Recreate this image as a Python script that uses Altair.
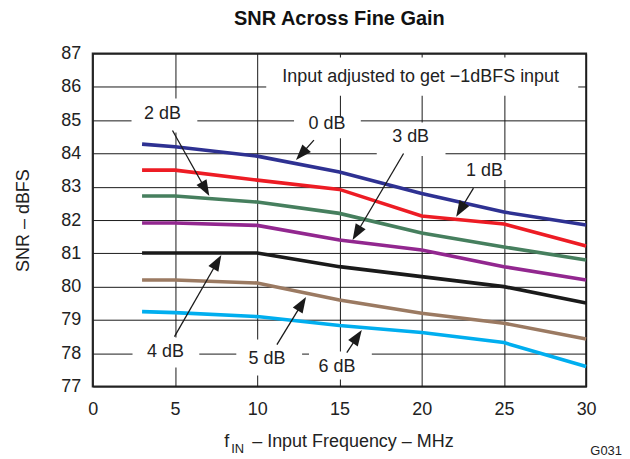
import math
import altair as alt
import pandas as pd

# ---------------- data ----------------
freq = [3, 5, 10, 15, 20, 25, 30]
series_names = ["0 dB", "1 dB", "2 dB", "3 dB", "4 dB", "5 dB", "6 dB"]
snr_0db = [84.28, 84.20, 83.92, 83.44, 82.80, 82.24, 81.85]
snr_1db = [83.50, 83.50, 83.20, 82.92, 82.12, 81.88, 81.22]
snr_2db = [82.72, 82.72, 82.54, 82.20, 81.61, 81.19, 80.80]
snr_3db = [81.91, 81.91, 81.84, 81.40, 81.10, 80.60, 80.20]
snr_4db = [81.01, 81.01, 81.01, 80.60, 80.30, 80.00, 79.51]
snr_5db = [80.20, 80.20, 80.11, 79.60, 79.20, 78.90, 78.43]
snr_6db = [79.25, 79.22, 79.10, 78.83, 78.62, 78.32, 77.60]
line_colors = ["#2E3192", "#ED1C24", "#467F5E", "#92278F", "#1A1A1A", "#9B7A62", "#00AEEF"]

x_ticks = [0, 5, 10, 15, 20, 25, 30]
y_ticks = [77, 78, 79, 80, 81, 82, 83, 84, 85, 86, 87]

# annotation labels (data coordinates)
label_text = ["Input adjusted to get \u22121dBFS input", "2 dB", "0 dB", "3 dB", "1 dB", "4 dB", "5 dB", "6 dB"]
label_x = [19.94, 4.24, 14.24, 19.33, 23.82, 4.42, 10.60, 14.85]
label_y = [86.31, 85.17, 84.87, 84.49, 83.47, 78.05, 77.84, 77.60]

# white label backgrounds (data coordinates)
box_x1 = [10.55, 2.36, 12.24, 17.27, 22.10, 2.42, 8.73, 13.15]
box_x2 = [29.52, 6.36, 16.30, 21.45, 25.40, 6.48, 12.73, 16.97]
box_y1 = [86.88, 85.65, 85.08, 84.93, 83.80, 78.47, 78.41, 78.05]
box_y2 = [85.73, 84.63, 84.46, 83.92, 83.20, 77.57, 77.33, 77.21]

# arrows: start (near label) -> tip (on curve)
arrow_x0 = [4.85, 13.45, 18.90, 23.15, 4.97, 11.20, 15.45]
arrow_y0 = [84.69, 84.40, 84.00, 82.96, 78.50, 78.26, 78.02]
arrow_x1 = [7.09, 12.36, 15.80, 22.10, 7.82, 12.97, 16.36]
arrow_y1 = [82.72, 83.80, 81.40, 82.10, 80.95, 79.69, 78.70]

# ---------------- layout ----------------
W, H = 495, 334
X_DOM = [0, 30]
Y_DOM = [77, 87]
FONT = "Liberation Sans"

rows = []
for name, vals in zip(series_names, [snr_0db, snr_1db, snr_2db, snr_3db, snr_4db, snr_5db, snr_6db]):
    for f, v in zip(freq, vals):
        rows.append({"series": name, "freq": f, "snr": v})
df = pd.DataFrame(rows)

labels_df = pd.DataFrame({"text": label_text, "x": label_x, "y": label_y})
boxes_df = pd.DataFrame({"x1": box_x1, "x2": box_x2, "y1": box_y1, "y2": box_y2})

sx = W / (X_DOM[1] - X_DOM[0])
sy = H / (Y_DOM[1] - Y_DOM[0])
HEAD = 16.0
arows = []
for x0, y0, x1, y1 in zip(arrow_x0, arrow_y0, arrow_x1, arrow_y1):
    dxp = (x1 - x0) * sx
    dyp = -(y1 - y0) * sy
    L = math.hypot(dxp, dyp)
    ux, uy = dxp / L, dyp / L
    ang = (math.degrees(math.atan2(dxp, -dyp)) + 360.0) % 360.0
    arows.append({
        "x0": x0, "y0": y0,
        "xe": x1 - ux * (HEAD * 0.6) / sx, "ye": y1 + uy * (HEAD * 0.6) / sy,
        "hx": x1 - ux * (HEAD / 2) / sx, "hy": y1 + uy * (HEAD / 2) / sy,
        "ang": ang,
    })
arrows_df = pd.DataFrame(arows)

xs = alt.Scale(domain=X_DOM, nice=False, zero=False)
ys = alt.Scale(domain=Y_DOM, nice=False, zero=False)

x_axis = alt.Axis(values=x_ticks, title=None, grid=True, gridColor="#1a1a1a", gridWidth=1,
                  domain=False, ticks=False, tickSize=0, labelFontSize=18, labelPadding=14,
                  labelColor="#222222", labelFont=FONT, labelFlush=False)
y_axis = alt.Axis(values=y_ticks, title="SNR \u2013 dBFS", grid=True, gridColor="#1a1a1a", gridWidth=1,
                  domain=False, ticks=False, tickSize=0, labelFontSize=18, labelPadding=12,
                  labelColor="#222222", labelFont=FONT, labelFlush=False,
                  titleFont=FONT, titleFontSize=18, titleFontWeight="normal", titleColor="#222222",
                  titlePadding=28)

lines = alt.Chart(df).mark_line(strokeWidth=3.6).encode(
    x=alt.X("freq:Q", scale=xs, axis=x_axis),
    y=alt.Y("snr:Q", scale=ys, axis=y_axis),
    color=alt.Color("series:N", scale=alt.Scale(domain=series_names, range=line_colors), legend=None),
)

boxes = alt.Chart(boxes_df).mark_rect(color="white", opacity=1).encode(
    x=alt.X("x1:Q", scale=xs, axis=x_axis), x2="x2:Q",
    y=alt.Y("y1:Q", scale=ys, axis=y_axis), y2="y2:Q",
)

shafts = alt.Chart(arrows_df).mark_rule(color="#1a1a1a", strokeWidth=1.3).encode(
    x=alt.X("x0:Q", scale=xs, axis=x_axis), y=alt.Y("y0:Q", scale=ys, axis=y_axis),
    x2="xe:Q", y2="ye:Q",
)

heads = alt.Chart(arrows_df).mark_point(
    shape="M0,-1L-0.72,1L0.72,1Z", filled=True, size=256, color="#1a1a1a", opacity=1, strokeWidth=0
).encode(
    x=alt.X("hx:Q", scale=xs, axis=x_axis), y=alt.Y("hy:Q", scale=ys, axis=y_axis),
    angle=alt.Angle("ang:Q", scale=None),
)

texts = alt.Chart(labels_df).mark_text(font=FONT, fontSize=18, color="#222222", align="center",
                                       baseline="middle").encode(
    x=alt.X("x:Q", scale=xs, axis=x_axis), y=alt.Y("y:Q", scale=ys, axis=y_axis), text="text:N",
)

xt_df = pd.DataFrame({"t": ["x"]})
xt_f = alt.Chart(xt_df).mark_text(font=FONT, fontSize=18, color="#222222", align="left",
                                  baseline="alphabetic", text="f").encode(
    x=alt.value(132), y=alt.value(395))
xt_sub = alt.Chart(xt_df).mark_text(font=FONT, fontSize=13, color="#222222", align="left",
                                    baseline="alphabetic", text="IN").encode(
    x=alt.value(139), y=alt.value(401))
xt_rest = alt.Chart(xt_df).mark_text(font=FONT, fontSize=18, color="#222222", align="left",
                                     baseline="alphabetic", text="\u2013 Input Frequency \u2013 MHz").encode(
    x=alt.value(160), y=alt.value(395))
g031 = alt.Chart(xt_df).mark_text(font=FONT, fontSize=13, color="#222222", align="right",
                                  baseline="alphabetic", text="G031").encode(
    x=alt.value(531), y=alt.value(403))

chart = alt.layer(boxes, lines, shafts, heads, texts, xt_f, xt_sub, xt_rest, g031).properties(
    width=W, height=H,
    title=alt.TitleParams("SNR Across Fine Gain", font=FONT, fontSize=20, fontWeight="bold",
                          color="#111111", anchor="middle", frame="group", offset=16),
    autosize=alt.AutoSizeParams(type="none"),
    padding={"left": 85, "top": 45, "right": 36, "bottom": 72},
).configure(background="white").configure_view(stroke="#2a2a2a", strokeWidth=2)

chart.save("out.html", embed_options={"renderer": "svg", "actions": False})
